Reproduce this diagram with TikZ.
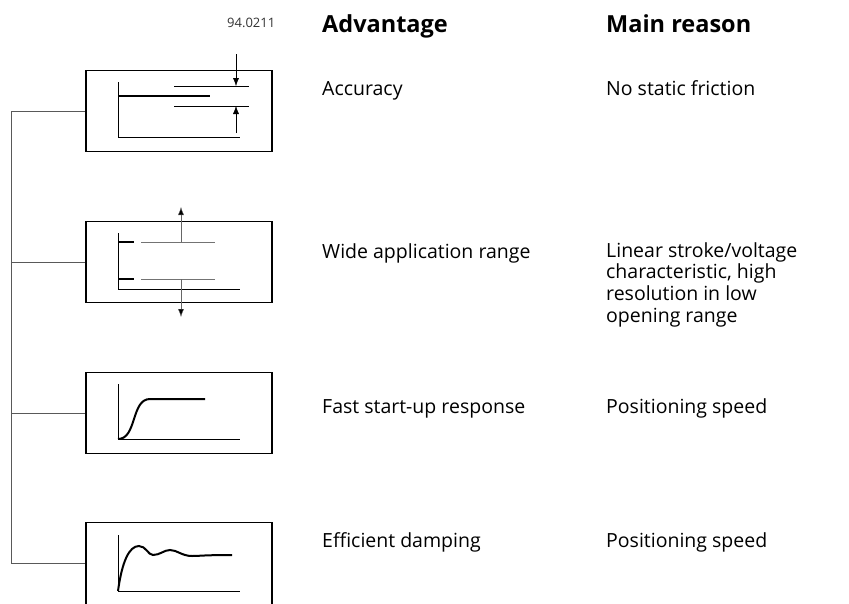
\documentclass[tikz,border=0pt]{standalone}
\usepackage{fontspec}
\setmainfont{Open Sans}
\usetikzlibrary{arrows.meta}

\begin{document}
\begin{tikzpicture}[x=1pt,y=-1pt,
  every node/.style={inner sep=0pt,anchor=base west,font=\fontsize{19.5}{21.7}\selectfont},
  panel/.style={draw,line width=1.6pt,minimum width=186pt,minimum height=81pt,anchor=center},
  bus/.style={draw=black!65,line width=1pt},
  axis/.style={line width=1pt},
  tip/.style={-{Latex[length=8pt,width=6pt,fill=black]}}]

  \clip (0,0) rectangle (849,603);

  % Define the four panels
  \node[panel] (p1) at (179,111) {};
  \node[panel] (p2) at (179,262) {};
  \node[panel] (p3) at (179,413) {};
  \node[panel,minimum height=101pt] (p4) at (179,573) {};

  % Left connector from panel to panel
  \coordinate (rail) at (11,0);
  \coordinate (p4in) at ([yshift=10pt]p4.west);
  \draw[bus] (p1.west) -- (p1.west -| rail) -- (p4in -| rail) -- (p4in);
  \draw[bus] (p2.west) -- (p2.west -| rail);
  \draw[bus] (p3.west) -- (p3.west -| rail);

  % Panel 1: accuracy
  \draw[axis] (118,82) -- (118,137) -- (240,137);
  \draw[line width=2.4pt] (118,96) -- (210,96);
  \draw (174,86) -- (249,86);
  \draw (174,106) -- (249,106);
  \draw[tip] (236,54) -- (236,86);
  \draw[tip] (236,133) -- (236,106);

  % Panel 2: range
  \draw[axis] (118,233) -- (118,289) -- (240,289);
  \draw[line width=2.4pt] (118,242) -- (134,242);
  \draw[line width=2.4pt] (118,279) -- (134,279);
  \draw[black!55,line width=1pt] (141,242) -- (215,242);
  \draw[black!55,line width=1pt] (141,279) -- (215,279);
  \draw[tip,black!60] (181,242) -- (181,207);
  \draw[tip,black!60] (181,279) -- (181,317);

  % Panel 3: start-up
  \draw[axis] (118,384) -- (118,439) -- (240,439);
  \draw[line width=2pt] (118,439) .. controls (137,439) and (131,399) .. (150,399) -- (205,399);

  % Panel 4: damping
  \draw[axis] (118,535) -- (118,591) -- (240,591);
  \draw[line width=2pt] (118,591) .. controls (122,562) and (129,546) .. (139,546)
    .. controls (146,546) and (148,555) .. (153,555)
    .. controls (160,555) and (164,550) .. (170,550)
    .. controls (177,550) and (182,556) .. (192,556)
    .. controls (200,556) and (204,555) .. (232,555);

  % Headings and labels
  \node[font=\fontsize{13}{15}\selectfont,text=black!80] (code) at (227,27) {94.0211};
  \node[font=\fontsize{23.5}{26}\selectfont\bfseries] (hadv) at (322,32) {Advantage};
  \node[font=\fontsize{23.5}{26}\selectfont\bfseries] (hwhy) at (606,32) {Main reason};

  \node (adv1) at (322,95) {Accuracy};
  \node (why1) at (606,95) {No static friction};
  \node (adv2) at (322,258) {Wide application range};
  \node[align=left,anchor=north west] (why2) at (606,242) {Linear stroke/voltage\\characteristic, high\\resolution in low\\opening range};
  \node (adv3) at (322,413) {Fast start-up response};
  \node (why3) at (606,413) {Positioning speed};
  \node (adv4) at (322,547) {Efficient damping};
  \node (why4) at (606,547) {Positioning speed};

\end{tikzpicture}
\end{document}
